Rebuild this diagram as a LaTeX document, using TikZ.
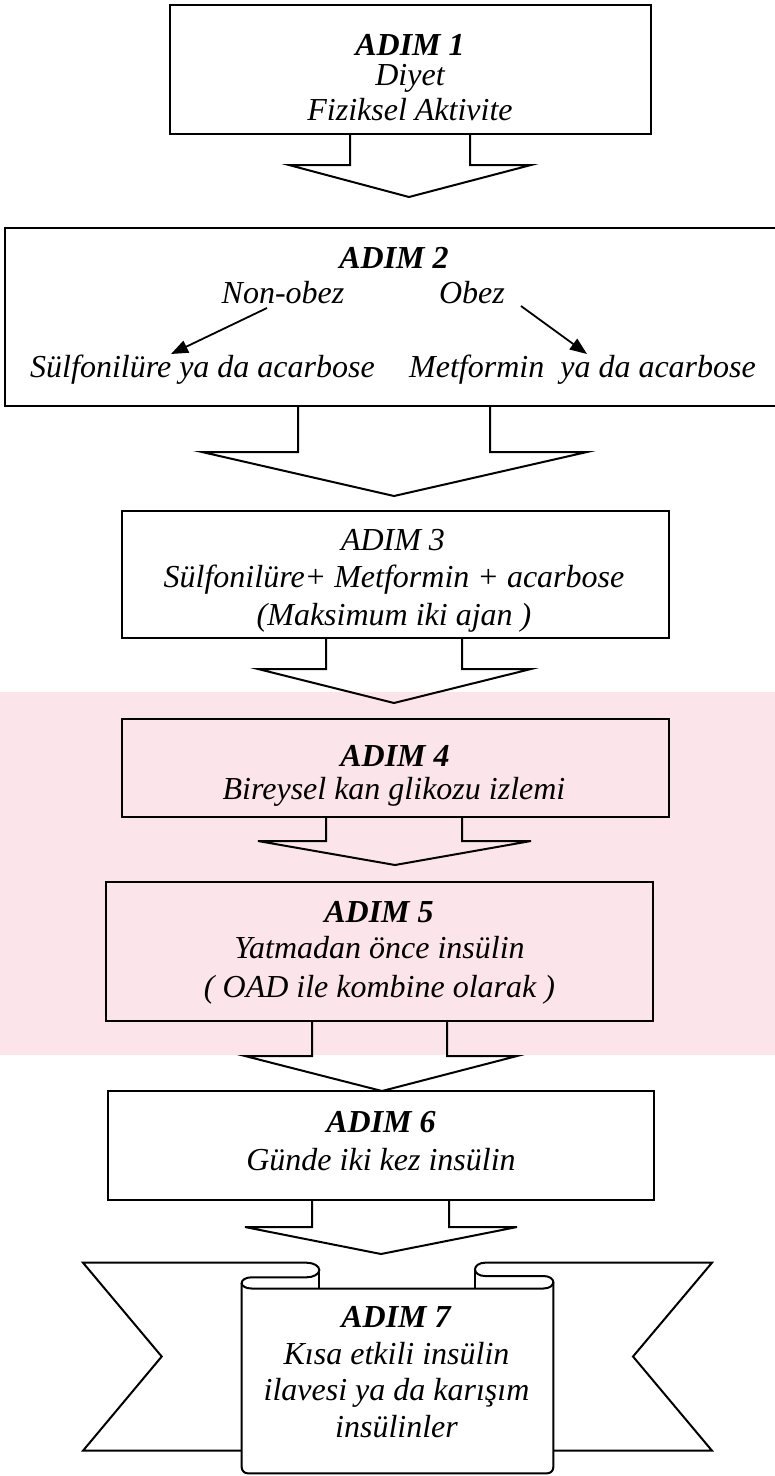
\documentclass[tikz,border=0pt]{standalone}
\usepackage{fontspec}
\setmainfont{Liberation Serif}
\usetikzlibrary{arrows.meta}
\definecolor{wmpink}{RGB}{252,229,234}
\begin{document}
\begin{tikzpicture}[x=1pt,y=-1pt,
  boxst/.style={draw, line width=2pt, inner sep=0pt},
  barrow/.style={draw, line width=2pt, line join=miter},
  txt/.style={font=\fontsize{32}{38}\selectfont\itshape, anchor=base, inner sep=0pt},
  btxt/.style={font=\fontsize{32}{38}\selectfont\bfseries\itshape, anchor=base, inner sep=0pt},
  sarrow/.style={line width=1.8pt, -{Triangle[length=17pt,width=13pt]}},
  ribbon/.style={draw, line width=2pt, line join=miter}]
\useasboundingbox (0,0) rectangle (775,1476);
% watermark band
\fill[wmpink] (0,692) rectangle (775,1055);
% boxes
\node[boxst, minimum width=481pt, minimum height=129pt] (b1) at (410.5,69.5) {};
\node[boxst, minimum width=785pt, minimum height=178pt] (b2) at (397.5,317) {};
\node[boxst, minimum width=547pt, minimum height=127pt] (b3) at (395.5,574.5) {};
\node[boxst, minimum width=547pt, minimum height=98pt] (b4) at (395.5,768) {};
\node[boxst, minimum width=547pt, minimum height=139pt] (b5) at (379.5,951.5) {};
\node[boxst, minimum width=546pt, minimum height=109pt] (b6) at (381,1145.5) {};
% texts
\node[btxt] (t1a) at (410,55) {ADIM 1};
\node[txt] (t1b) at (410,85) {Diyet};
\node[txt] (t1c) at (410,120) {Fiziksel Aktivite};
\node[btxt] (t2a) at (394,268) {ADIM 2};
\node[txt] (t2b) at (283,303) {Non-obez};
\node[txt] (t2c) at (472,303) {Obez};
\node[txt] (t2d) at (202.5,377) {Sülfonilüre ya da acarbose};
\node[txt] (t2e) at (582.5,377) {Metformin\ \ ya da acarbose};
\node[txt] (t3a) at (393,550) {ADIM 3};
\node[txt] (t3b) at (394,587) {Sülfonilüre+ Metformin + acarbose};
\node[txt] (t3c) at (394,625) {(Maksimum iki ajan )};
\node[btxt] (t4a) at (395,766) {ADIM 4};
\node[txt] (t4b) at (394,799) {Bireysel kan glikozu izlemi};
\node[btxt] (t5a) at (379,922) {ADIM 5};
\node[txt] (t5b) at (379.5,958) {Yatmadan önce insülin};
\node[txt] (t5c) at (379.5,997) {( OAD ile kombine olarak )};
\node[btxt] (t6a) at (381,1132) {ADIM 6};
\node[txt] (t6b) at (381,1170) {Günde iki kez insülin};
\node[btxt] (t7a) at (396,1327) {ADIM 7};
\node[txt] (t7b) at (396.5,1364) {Kısa etkili insülin};
\node[txt] (t7c) at (396.5,1400) {ilavesi ya da karışım};
\node[txt] (t7d) at (396.5,1437) {insülinler};
% small arrows in box 2
\coordinate (n1) at (267,308); \coordinate (n2) at (171,354);
\coordinate (o1) at (521,306); \coordinate (o2) at (587,354);
\draw[sarrow] (n1) -- (n2);
\draw[sarrow] (o1) -- (o2);
% block arrows
\draw[barrow] (350,134) -- (350,165) -- (289,165) -- (409,197) -- (531,165) -- (470,165) -- (470,134);
\draw[barrow] (298,406) -- (298,452) -- (202,452) -- (394,496) -- (587,452) -- (490,452) -- (490,406);
\draw[barrow] (326,638) -- (326,669) -- (258,669) -- (394,703) -- (531,669) -- (462,669) -- (462,638);
\draw[barrow] (326,817) -- (326,841) -- (258,841) -- (395,865) -- (531,841) -- (462,841) -- (462,817);
\draw[barrow] (312,1021) -- (312,1056) -- (245,1056) -- (382,1091) -- (517,1056) -- (447,1056) -- (447,1021);
\draw[barrow] (312,1200) -- (312,1227) -- (245,1227) -- (381,1254) -- (517,1227) -- (449,1227) -- (449,1200);
% ribbon (ADIM 7)
\draw[ribbon] (241.7,1450.7) -- (83,1450.7) -- (161.7,1356.5) -- (83,1262.7) -- (306.7,1262.7)
  .. controls (313.5,1262.7) and (319.3,1266) .. (319.3,1270)
  .. controls (319.3,1274) and (313.5,1277.3) .. (306.7,1277.3) -- (251.7,1277.3)
  .. controls (245.5,1277.3) and (241.7,1280) .. (241.7,1283)
  .. controls (241.7,1286) and (245.5,1288.5) .. (251.7,1288.5) -- (543.3,1288.5)
  .. controls (549.5,1288.5) and (553.3,1285.5) .. (553.3,1282)
  .. controls (553.3,1279) and (549.5,1276) .. (543.3,1276) -- (485,1276)
  .. controls (479,1276) and (475,1273) .. (475,1269.3)
  .. controls (475,1266) and (479,1262.7) .. (485,1262.7) -- (712,1262.7)
  -- (633,1356.5) -- (712,1450.7) -- (553.3,1450.7);
\draw[ribbon] (319.3,1270) -- (319.3,1288.5);
\draw[ribbon] (475,1269.3) -- (475,1288.5);
\draw[ribbon, rounded corners=6pt] (241.7,1283) -- (241.7,1473.3) -- (553.3,1473.3) -- (553.3,1282);
\end{tikzpicture}
\end{document}
